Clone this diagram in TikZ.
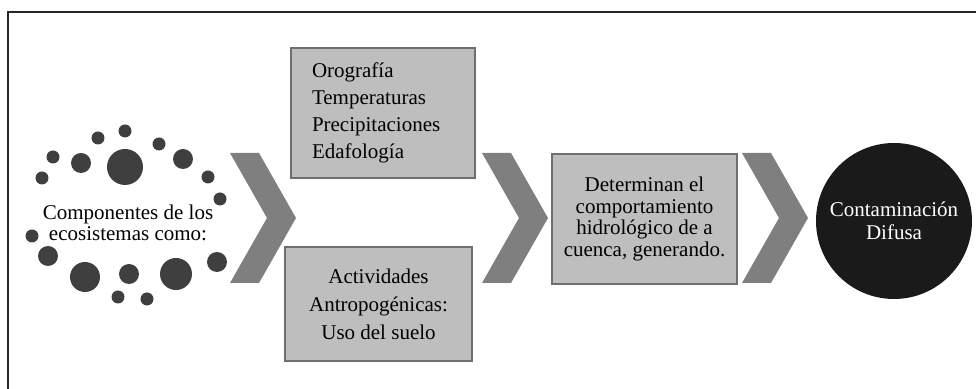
\documentclass[tikz,border=0pt]{standalone}
\usepackage{fontspec}
\setmainfont{Liberation Serif}
\definecolor{cajagris}{HTML}{BEBEBE}
\definecolor{bordegris}{HTML}{6E6E6E}
\definecolor{flecha}{HTML}{7F7F7F}
\definecolor{punto}{HTML}{3F3F3F}
\definecolor{fondo}{HTML}{1A1A1A}
\begin{document}
\begin{tikzpicture}[x=0.5pt,y=-0.5pt,
  caja/.style={draw=bordegris,fill=cajagris,line width=0.6pt,inner sep=0pt},
  texto/.style={font=\fontsize{10.5}{#1}\selectfont}]
\useasboundingbox (0,0) rectangle (976,389);
\draw[line width=1pt,black!85] (8,389)--(8,12)--(976,12);
% puntos alrededor del texto
\foreach \x/\y/\r in {125/167/18,81/163/10,183/159/10,53/157/6.5,42/178/6.5,98/138/6.5,125/131/6.5,159/144/6.5,208/177/6.5,220/199/6.5,32/236/6.5,48/256/10,85/277/15,129/274/10,176/274/16,217/262/10,118/297/6.5,147/299/6.5} {\fill[punto] (\x,\y) circle (\r);}
\node[texto=10.5,align=center] (comp) at (128,223) {Componentes de los\\ecosistemas como:};
% chevrones
\foreach \cx in {230,482,742} {\fill[flecha] (\cx,153)--++(29,0)--++(37,65)--++(-37,65)--++(-29,0)--++(37,-65)--cycle;}
\node[caja,texto=13.5,align=left,text width=71pt,inner xsep=10.5pt,minimum height=65pt] (fisico) at (383,113) {Orografía\\Temperaturas\\Precipitaciones\\Edafología};
\node[caja,texto=14,align=center,minimum width=93.5pt,minimum height=57pt] (antro) at (378.5,304) {Actividades\\Antropogénicas:\\Uso del suelo};
\node[caja,texto=10.7,align=center,minimum width=92.5pt,minimum height=65pt] (cuenca) at (644.5,219) {Determinan el\\comportamiento\\hidrológico de a\\cuenca, generando.};
\node[circle,fill=fondo,text=white,texto=11.5,align=center,minimum size=78pt,inner sep=0pt] (difusa) at (894,221) {Contaminación\\Difusa};
\end{tikzpicture}
\end{document}
